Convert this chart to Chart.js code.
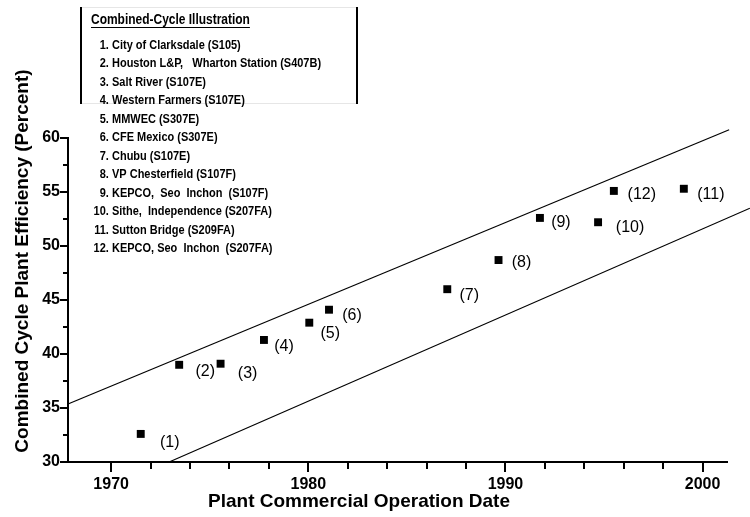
<!DOCTYPE html>
<html>
<head>
<meta charset="utf-8">
<script src="https://cdn.jsdelivr.net/npm/chart.js@4"></script>
<style>
  html, body { margin: 0; padding: 0; background: #fff; }
  #wrap { width: 750px; height: 517px; position: relative; }
</style>
</head>
<body>
<div id="wrap"><canvas id="chart"></canvas></div>
<script>
// plants, in legend order
const plantNames = [
  'City of Clarksdale (S105)',
  'Houston L&P,   Wharton Station (S407B)',
  'Salt River (S107E)',
  'Western Farmers (S107E)',
  'MMWEC (S307E)',
  'CFE Mexico (S307E)',
  'Chubu (S107E)',
  'VP Chesterfield (S107F)',
  'KEPCO,  Seo  Inchon  (S107F)',
  'Sithe,  Independence (S207FA)',
  'Sutton Bridge (S209FA)',
  'KEPCO, Seo  Inchon  (S207FA)',
];
const opYear = [1971.5, 1973.45, 1975.55, 1977.75, 1980.05, 1981.05, 1987.05, 1989.65, 1991.75, 1994.7, 1999.05, 1995.5];
const efficiency = [32.6, 39.0, 39.1, 41.3, 42.9, 44.1, 46.0, 48.7, 52.6, 52.2, 55.3, 55.1];

// envelope lines
const upperYear = [1967.81, 2001.35];
const upperEff = [35.37, 60.77];
const lowerYear = [1972.94, 2002.4];
const lowerEff = [30, 53.5];

const xTickValues = [1970, 1980, 1990, 2000];
const xMinorTicks = [1972, 1974, 1976, 1978, 1982, 1984, 1986, 1988, 1992, 1994, 1996, 1998];
const yTickValues = [30, 35, 40, 45, 50, 55, 60];
const yMinorTicks = [32.5, 37.5, 42.5, 47.5, 52.5, 57.5];

const legendTitle = 'Combined-Cycle Illustration';
const xTitle = 'Plant Commercial Operation Date';
const yTitle = 'Combined Cycle Plant Efficiency (Percent)';

const toPoints = (xs, ys) => xs.map((x, i) => ({ x, y: ys[i] }));

// label offset from each marker (dx, dy)
const labelOffsets = [[29, 9], [26, 7], [27, 10], [20, 7], [21, 11], [23, 6], [22, 6], [23, 3], [21, 5], [32, 5], [27, 6], [28, 4]];

let narrowOk = null;
const drawNarrow = (ctx, text, x, y, size, align) => {
  if (narrowOk === null) {
    ctx.font = 'bold 13px monospace';
    const a = ctx.measureText(legendTitle).width;
    ctx.font = 'bold 13px "Liberation Sans Narrow", monospace';
    const b = ctx.measureText(legendTitle).width;
    narrowOk = a !== b;
  }
  ctx.save();
  ctx.textAlign = align;
  ctx.textBaseline = 'middle';
  let w;
  if (narrowOk) {
    ctx.font = `bold ${size}px "Liberation Sans Narrow"`;
    ctx.fillText(text, x, y);
    w = ctx.measureText(text).width;
  } else {
    ctx.translate(x, y);
    ctx.scale(0.82, 1);
    ctx.font = `bold ${size}px "Liberation Sans", Arial, sans-serif`;
    ctx.fillText(text, 0, 0);
    w = ctx.measureText(text).width * 0.82;
  }
  ctx.restore();
  return w;
};

const decorPlugin = {
  id: 'decor',
  afterDraw(chart) {
    const { ctx, chartArea } = chart;
    const xs = chart.scales.x;
    const ys = chart.scales.y;
    ctx.save();
    ctx.strokeStyle = '#000';
    ctx.fillStyle = '#000';
    ctx.lineWidth = 2;

    // tick marks
    const xTick = (v, len) => {
      const px = Math.round(xs.getPixelForValue(v));
      ctx.beginPath();
      ctx.moveTo(px, chartArea.bottom);
      ctx.lineTo(px, chartArea.bottom + len);
      ctx.stroke();
    };
    const yTick = (v, len) => {
      const py = Math.round(ys.getPixelForValue(v));
      ctx.beginPath();
      ctx.moveTo(chartArea.left, py);
      ctx.lineTo(chartArea.left - len, py);
      ctx.stroke();
    };
    xTickValues.forEach((v) => xTick(v, 10));
    xMinorTicks.forEach((v) => xTick(v, 7));
    yTickValues.forEach((v) => yTick(v, 8));
    yMinorTicks.forEach((v) => yTick(v, 5));

    // point labels
    const meta = chart.getDatasetMeta(2);
    ctx.font = '16px "Liberation Sans", Arial, sans-serif';
    ctx.textAlign = 'center';
    ctx.textBaseline = 'middle';
    meta.data.forEach((pt, i) => {
      const [dx, dy] = labelOffsets[i];
      ctx.fillText(`(${i + 1})`, pt.x + dx, pt.y + dy);
    });

    // axis titles
    ctx.font = 'bold 19px "Liberation Sans", Arial, sans-serif';
    ctx.fillText(xTitle, 359, 502);
    ctx.save();
    ctx.translate(23, 261);
    ctx.rotate(-Math.PI / 2);
    ctx.fillText(yTitle, 0, 0);
    ctx.restore();

    // legend box
    ctx.lineWidth = 1;
    ctx.strokeStyle = '#e6e6e6';
    ctx.beginPath();
    ctx.moveTo(81, 7.5);
    ctx.lineTo(357, 7.5);
    ctx.moveTo(81, 103.5);
    ctx.lineTo(357, 103.5);
    ctx.stroke();
    ctx.lineWidth = 2;
    ctx.strokeStyle = '#000';
    ctx.beginPath();
    ctx.moveTo(81, 7);
    ctx.lineTo(81, 104);
    ctx.moveTo(357, 7);
    ctx.lineTo(357, 104);
    ctx.stroke();

    const tw = drawNarrow(ctx, legendTitle, 91, 20, 14.6, 'left');
    ctx.lineWidth = 1;
    ctx.beginPath();
    ctx.moveTo(91, 27.5);
    ctx.lineTo(91 + tw, 27.5);
    ctx.stroke();

    plantNames.forEach((name, i) => {
      const y = 45 + i * 18.5;
      drawNarrow(ctx, `${i + 1}.`, 108.8, y, 13.4, 'right');
      drawNarrow(ctx, name, 112, y, 13.4, 'left');
    });
    ctx.restore();
  },
};

const tickFont = { family: '"Liberation Sans", Arial, sans-serif', size: 16, weight: 'bold' };

new Chart(document.getElementById('chart'), {
  type: 'scatter',
  data: {
    datasets: [
      {
        data: toPoints(upperYear, upperEff),
        showLine: true,
        borderColor: '#000',
        borderWidth: 1.2,
        pointRadius: 0,
        clip: false,
      },
      {
        data: toPoints(lowerYear, lowerEff),
        showLine: true,
        borderColor: '#000',
        borderWidth: 1.2,
        pointRadius: 0,
        clip: false,
      },
      {
        data: toPoints(opYear, efficiency),
        pointStyle: 'rect',
        pointRadius: 5.6,
        backgroundColor: '#000',
        borderColor: '#000',
        borderWidth: 0,
      },
    ],
  },
  options: {
    responsive: true,
    maintainAspectRatio: false,
    animation: false,
    devicePixelRatio: 1,
    layout: { padding: { left: 0, top: 138, right: 23, bottom: 0 } },
    plugins: { legend: { display: false }, tooltip: { enabled: false } },
    scales: {
      x: {
        type: 'linear',
        min: 1967.81,
        max: 2001.24,
        afterBuildTicks: (s) => { s.ticks = xTickValues.map((value) => ({ value })); },
        afterFit: (s) => { s.height = 55; },
        grid: { drawOnChartArea: false, drawTicks: false },
        border: { display: true, color: '#000', width: 2 },
        ticks: { font: tickFont, color: '#000', padding: 13, callback: (v) => String(v), maxRotation: 0 },
      },
      y: {
        min: 30,
        max: 60,
        afterBuildTicks: (s) => { s.ticks = yTickValues.map((value) => ({ value })); },
        afterFit: (s) => { s.width = 68; },
        grid: { drawOnChartArea: false, drawTicks: false },
        border: { display: true, color: '#000', width: 2 },
        ticks: { font: tickFont, color: '#000', padding: 8, callback: (v) => String(v) },
      },
    },
  },
  plugins: [decorPlugin],
});
</script>
</body>
</html>
